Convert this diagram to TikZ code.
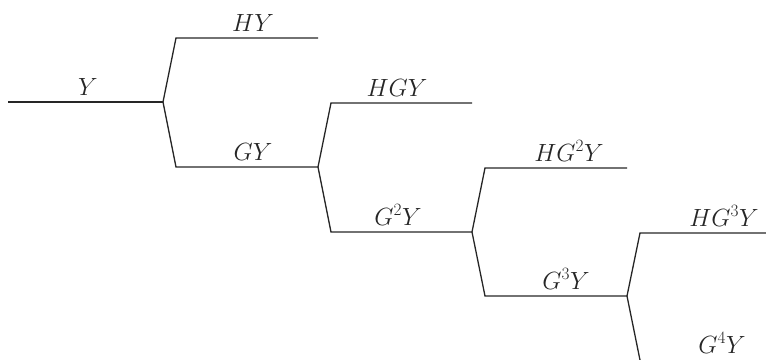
\documentclass[tikz,border=0pt]{standalone}
\begin{document}
\begin{tikzpicture}[x=1pt,y=-1pt,
  branch/.style={line width=1.3pt,draw=black!85,line join=miter},
  lbl/.style={anchor=base,inner sep=0pt,text=black!85,font=\fontsize{27}{31}\selectfont}]
\useasboundingbox (0,0) rectangle (766,359);
% forks and segment ends
\coordinate (y0) at (8,102);
\coordinate (b1) at (163,102);
\coordinate (h1a) at (176,38);  \coordinate (h1b) at (318,38);
\coordinate (g1a) at (176,167); \coordinate (b2) at (318,167);
\coordinate (h2a) at (331,103); \coordinate (h2b) at (472,103);
\coordinate (g2a) at (331,232); \coordinate (b3) at (472,232);
\coordinate (h3a) at (485,168); \coordinate (h3b) at (627,168);
\coordinate (g3a) at (485,296); \coordinate (b4) at (627,296);
\coordinate (h4a) at (640,233); \coordinate (h4b) at (770,233);
\coordinate (g4a) at (641,365);
% the tree
\draw[branch] (y0) -- (b1);
\draw[branch] (h1b) -- (h1a) -- (b1) -- (g1a) -- (b2);
\draw[branch] (h2b) -- (h2a) -- (b2) -- (g2a) -- (b3);
\draw[branch] (h3b) -- (h3a) -- (b3) -- (g3a) -- (b4);
\draw[branch] (h4b) -- (h4a) -- (b4) -- (g4a);
% labels
\node[lbl] (ly)   at (88,95)   {$Y$};
\node[lbl] (lhy)  at (253,31)  {$HY$};
\node[lbl] (lgy)  at (253,160) {$GY$};
\node[lbl] (lhgy) at (397,96)  {$HGY$};
\node[lbl] (lg2)  at (398,225) {$G^2Y$};
\node[lbl] (lhg2) at (569,161) {$HG^2Y$};
\node[lbl] (lg3)  at (566,289) {$G^3Y$};
\node[lbl] (lhg3) at (724,226) {$HG^3Y$};
\node[lbl] (lg4)  at (722,353) {$G^4Y$};
\end{tikzpicture}
\end{document}
